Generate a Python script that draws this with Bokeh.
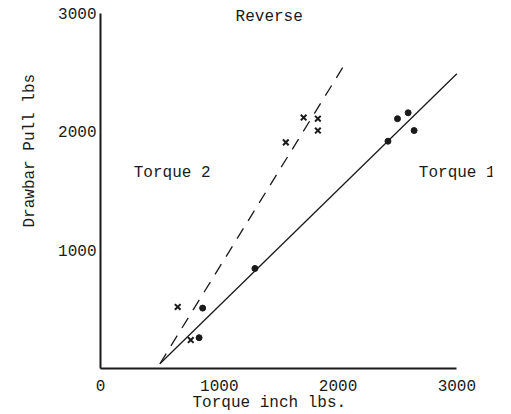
from bokeh.plotting import figure
from bokeh.models import FixedTicker, Label, Range1d, Title
from bokeh.embed import file_html
from bokeh.resources import INLINE

# Data
torque1_x = [830, 860, 1300, 2420, 2500, 2590, 2640]
torque1_y = [260, 510, 845, 1920, 2110, 2160, 2010]
torque2_x = [650, 760, 1560, 1710, 1830, 1830]
torque2_y = [520, 240, 1910, 2120, 2110, 2010]
torque1_line_x = [500, 3000]
torque1_line_y = [40, 2490]
torque2_line_x = [500, 2050]
torque2_line_y = [40, 2560]
x_ticks = [0, 1000, 2000, 3000]
y_ticks = [1000, 2000, 3000]

FONT = "Liberation Mono"
INK = "#1a1a1a"

p = figure(width=511, height=414, output_backend="svg", toolbar_location=None,
           x_range=Range1d(0, 3300), y_range=Range1d(0, 3100),
           min_border_left=100, min_border_right=19, min_border_top=1, min_border_bottom=46)
p.outline_line_color = None
p.grid.visible = False
p.background_fill_color = "white"
p.border_fill_color = "white"

for ax, ticks in ((p.xaxis, x_ticks), (p.yaxis, y_ticks)):
    ax.ticker = FixedTicker(ticks=ticks)
    ax.bounds = (0, 3000)
    ax.axis_line_color = INK
    ax.axis_line_width = 2
    ax.major_tick_line_color = None
    ax.minor_tick_line_color = None
    ax.major_label_text_font = FONT
    ax.major_label_text_font_size = "16px"
    ax.major_label_text_color = INK
p.xaxis.major_label_standoff = 5
p.yaxis.major_label_standoff = -2

# axis titles (positioned off-centre as in the reference)
p.add_layout(Title(text="Torque inch lbs.", align="left", offset=92, vertical_align="top",
                   standoff=0, text_font=FONT, text_font_size="16px",
                   text_font_style="normal", text_color=INK), "below")
p.add_layout(Title(text="Drawbar Pull lbs", align="left", offset=141, vertical_align="top",
                   standoff=30, text_font=FONT, text_font_size="16px",
                   text_font_style="normal", text_color=INK), "left")

# fitted lines
p.line(torque1_line_x, torque1_line_y, line_color=INK, line_width=1.3)
p.line(torque2_line_x, torque2_line_y, line_color=INK, line_width=1.3, line_dash="12 9")

# observations
p.scatter(torque1_x, torque1_y, marker="circle", size=6, fill_color=INK, line_color=INK)
p.scatter(torque2_x, torque2_y, marker="x", size=8, line_color=INK, line_width=2)

def txt(x, y, s, align="left"):
    p.add_layout(Label(x=x, y=y, text=s, text_font=FONT, text_font_size="16px",
                       text_color=INK, text_align=align, text_baseline="middle"))

txt(1420, 2965, "Reverse", "center")
txt(280, 1650, "Torque 2")
txt(2680, 1650, "Torque 1")

open("out.html", "w").write(file_html(p, INLINE))
